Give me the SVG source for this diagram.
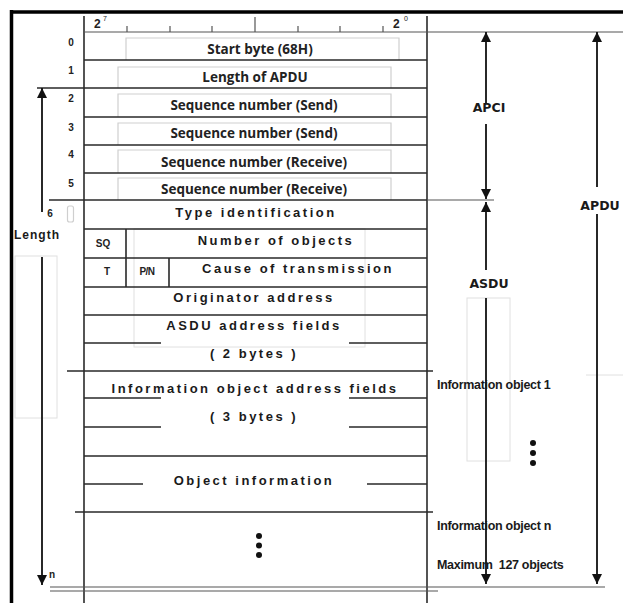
<svg xmlns="http://www.w3.org/2000/svg" width="623" height="603" viewBox="0 0 623 603">
<style>
.ln{stroke:#2a2a2a;stroke-width:1.6;fill:none}
.lt{stroke:#555;stroke-width:1.2;fill:none}
.fa{stroke:#e0e0e0;stroke-width:1;fill:none}
.bx{stroke:#cfcfcf;stroke-width:1.2;fill:none}
.ar{stroke:#111;stroke-width:1.8;fill:none}
.t1{font-family:"Open Sans","Noto Sans",sans-serif;font-weight:700;font-size:13.5px;fill:#222;text-anchor:middle}
.t2{font-family:"Liberation Sans",Arial,sans-serif;font-weight:700;font-size:13px;letter-spacing:2.5px;fill:#1a1a1a;text-anchor:middle}
.t3{font-family:"Liberation Sans",Arial,sans-serif;font-weight:700;font-size:10px;fill:#222;text-anchor:middle}
.t4{font-family:"DejaVu Sans",sans-serif;font-weight:700;font-size:12.5px;fill:#1a1a1a;text-anchor:middle}
.t5{font-family:"Liberation Sans",Arial,sans-serif;font-weight:700;font-size:12.5px;letter-spacing:-0.3px;fill:#1a1a1a}
</style>
<defs>
<marker id="ah" viewBox="0 0 10 10" refX="10" refY="5" markerWidth="10" markerHeight="10" markerUnits="userSpaceOnUse" orient="auto">
<path d="M0,0 L10,5 L0,10 z" fill="#111"/>
</marker>
</defs>
<rect width="623" height="603" fill="#fff"/>
<g id="frame">
<line x1="10" y1="12" x2="623" y2="12" stroke="#000" stroke-width="3.5"/>
<line x1="11.5" y1="10" x2="11.5" y2="603" stroke="#000" stroke-width="3.5"/>
<line class="ln" x1="84" y1="16" x2="84" y2="603"/>
<line class="ln" x1="427" y1="16" x2="427" y2="603"/>
<line class="lt" x1="84" y1="32" x2="623" y2="32"/>
</g>
<g id="scale">
<path class="lt" d="M127,26V32M170,26V32M212,26V32M255,17V32M298,26V32M340,26V32M383,26V32"/>
<text x="94" y="28" font-family="Liberation Sans,Arial,sans-serif" font-weight="700" font-size="12" fill="#222">2</text>
<text x="103" y="21" font-family="Liberation Sans,Arial,sans-serif" font-size="7" fill="#222">7</text>
<text x="393" y="28" font-family="Liberation Sans,Arial,sans-serif" font-weight="700" font-size="12" fill="#222">2</text>
<text x="404" y="21" font-family="Liberation Sans,Arial,sans-serif" font-size="7" fill="#222">0</text>
</g>
<g id="faint">
<rect class="fa" x="15" y="256" width="42" height="162"/>
<rect class="fa" x="467" y="298" width="43" height="163"/>
<line class="fa" x1="586" y1="375" x2="623" y2="375"/>
<rect class="fa" x="134" y="229" width="231" height="118"/>
<rect class="bx" x="67.5" y="206" width="6" height="16" rx="2"/>
</g>
<g id="row0"><path class="bx" d="M126,60V38H399V60"/><text class="t3" x="71" y="46">0</text><text class="t1" x="260" y="54">Start byte (68H)</text></g>
<g id="row1"><path class="bx" d="M118,88V67H391V88"/><text class="t3" x="71" y="74">1</text><text class="t1" x="255" y="82">Length of APDU</text></g>
<g id="row2"><path class="bx" d="M118,117V94H391V117"/><text class="t3" x="71" y="102">2</text><text class="t1" x="254" y="110">Sequence number (Send)</text></g>
<g id="row3"><path class="bx" d="M118,145V123H391V145"/><text class="t3" x="71" y="131">3</text><text class="t1" x="254" y="138">Sequence number (Send)</text></g>
<g id="row4"><path class="bx" d="M118,173V150H391V173"/><text class="t3" x="71" y="158">4</text><text class="t1" x="254" y="167">Sequence number (Receive)</text></g>
<g id="row5"><path class="bx" d="M118,200V178H391V200"/><text class="t3" x="71" y="187">5</text><text class="t1" x="254" y="194">Sequence number (Receive)</text></g>
<g id="row6"><text class="t3" x="50" y="217">6</text><text class="t2" x="256" y="217">Type identification</text></g>
<g id="rowSQ"><text class="t3" x="103" y="247">SQ</text><text class="t2" x="276" y="245">Number of objects</text></g>
<g id="rowCOT"><text class="t3" x="107" y="275">T</text><text class="t3" x="147" y="275" letter-spacing="-0.5">P/N</text><text class="t2" x="298" y="273">Cause of transmission</text></g>
<g id="rowOrig"><text class="t2" x="254" y="302">Originator address</text></g>
<g id="rowASDUaddr"><text class="t2" x="254" y="330">ASDU address fields</text><text class="t2" x="254" y="358">( 2 bytes )</text></g>
<g id="rowIOA"><text class="t2" x="255" y="393">Information object address fields</text><text class="t2" x="254" y="421">( 3 bytes )</text></g>
<g id="rowObjInfo"><text class="t2" x="254" y="485">Object information</text></g>
<g id="rowMore"><circle cx="259" cy="536" r="3" fill="#111"/><circle cx="259" cy="545.5" r="3" fill="#111"/><circle cx="259" cy="555" r="3" fill="#111"/><text class="t3" x="52" y="578">n</text></g>
<g id="connectors">
<path class="ln" d="M84,60H427M37,88H427M84,117H427M84,145H427M84,173H427"/>
<line class="ln" x1="49" y1="200" x2="427" y2="200"/>
<line class="lt" x1="427" y1="200" x2="494" y2="200"/>
<path class="ln" d="M84,229H427M84,258H427M84,287H427M84,315H427"/>
<path class="ln" d="M126,229V287M169,258V287"/>
<path class="ln" d="M84,343H161M349,343H427M67,371H433"/>
<path class="ln" d="M84,398H161M349,398H427M84,427H161M349,427H427M84,456H427"/>
<path class="ln" d="M84,484H143M367,484H427M75,512H433"/>
<path class="lt" d="M50,587H605M50,591H438"/>
<line class="ar" x1="42" y1="212" x2="42" y2="88" marker-end="url(#ah)"/>
<line class="ar" x1="42" y1="257" x2="42" y2="585" marker-end="url(#ah)"/>
<text x="37" y="239" font-family="Liberation Sans,Arial,sans-serif" font-weight="700" font-size="12" letter-spacing="1" fill="#1a1a1a" text-anchor="middle">Length</text>
<line class="ar" x1="486" y1="103" x2="486" y2="32" marker-end="url(#ah)"/>
<line class="ar" x1="486" y1="124" x2="486" y2="199" marker-end="url(#ah)"/>
<text class="t4" x="489" y="112">APCI</text>
<line class="ar" x1="486" y1="270" x2="486" y2="202" marker-end="url(#ah)"/>
<line class="ar" x1="486" y1="298" x2="486" y2="584" marker-end="url(#ah)"/>
<text class="t4" x="489" y="288">ASDU</text>
<line class="ar" x1="597" y1="187" x2="597" y2="32" marker-end="url(#ah)"/>
<line class="ar" x1="597" y1="214" x2="597" y2="584" marker-end="url(#ah)"/>
<text class="t4" x="600" y="210">APDU</text>
</g>
<g id="infoLabels">
<text class="t5" x="437" y="389">Information object 1</text>
<circle cx="533" cy="443" r="3" fill="#111"/><circle cx="533" cy="453" r="3" fill="#111"/><circle cx="533" cy="463" r="3" fill="#111"/>
<text class="t5" x="437" y="530">Information object n</text>
<text class="t5" x="437" y="569">Maximum <tspan dx="3">127 objects</tspan></text>
</g>
</svg>
